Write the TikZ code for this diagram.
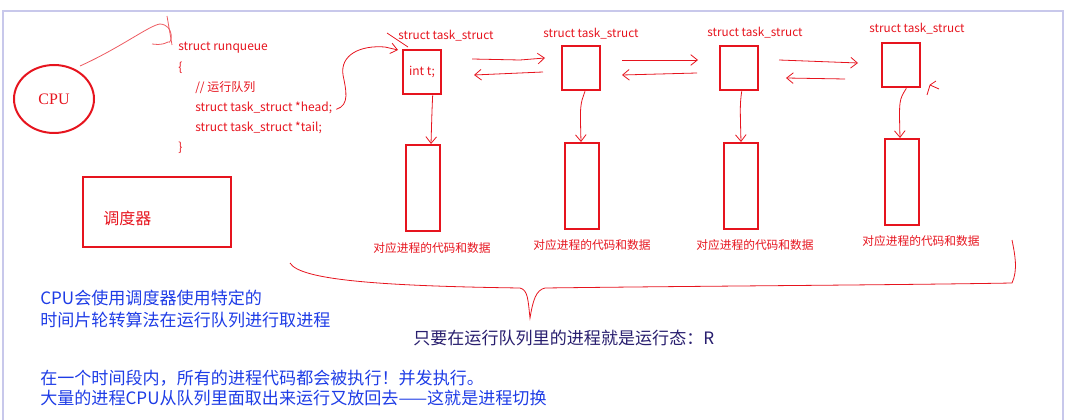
\documentclass[tikz,border=0pt]{standalone}
\usepackage{fontspec}
\setmainfont{Liberation Serif}
\newfontfamily\cjk{Noto Sans CJK SC}
\usetikzlibrary{arrows.meta,shapes.geometric}
\definecolor{rd}{RGB}{230,20,30}
\definecolor{bl}{RGB}{30,60,230}
\definecolor{dk}{RGB}{40,30,110}
\definecolor{lav}{RGB}{200,200,235}
\begin{document}
\begin{tikzpicture}[x=0.75pt,y=-0.75pt,
  rbox/.style={draw=rd,line width=1.5pt,inner sep=0pt},
  tbox/.style={rbox,minimum width=29pt,minimum height=33.5pt},
  dbox/.style={rbox,minimum width=25.5pt,minimum height=65pt},
  lbl/.style={text=rd,font=\cjk\fontsize{8.8}{10}\selectfont,inner sep=0pt},
  code/.style={text=rd,font=\cjk\fontsize{9}{10}\selectfont,inner sep=0pt,anchor=west},
  pen/.style={draw=rd,line width=0.6pt},
  arr/.style={pen,-{Straight Barb[length=5pt,width=8pt]}},
  note/.style={font=\cjk\fontsize{12.8}{14}\selectfont,inner sep=0pt,anchor=west}]
\useasboundingbox (0,0) rectangle (1069,420);
\draw[lav,line width=1pt] (3,11) rectangle (1063,425);
% CPU
\node[draw=rd,line width=1.5pt,ellipse,minimum width=60pt,minimum height=51pt,inner sep=0pt,text=rd,font=\fontsize{12}{13}\selectfont] (cpu) at (54,99) {CPU};
\coordinate (c1) at (80,66);
\coordinate (c2) at (168,42);
\draw[pen,rd!70] (c1) .. controls (120,48) and (150,25) .. (160,24) .. controls (175,25) and (172,45) .. (c2) .. controls (160,46) and (155,44) .. (152,44);
\draw[pen,rd!70] (167,16) -- (172,45);
% runqueue
\node[code] (r1) at (178,48) {struct runqueue};
\node[code] (r2) at (178,68) {\{};
\node[code] (r3) at (195,88) {// 运行队列};
\node[code] (r4) at (195,108) {struct task\_struct *head;};
\node[code] (r5) at (195,128) {struct task\_struct *tail;};
\node[code] (r6) at (178,148) {\}};
% scheduler
\node[rbox,minimum width=111pt,minimum height=52pt] (sch) at (157,212) {};
\node[text=rd,font=\cjk\fontsize{12}{13}\selectfont,inner sep=0pt,anchor=west] (scht) at (103,218) {调度器};
% task boxes
\node[tbox,text=rd,font=\cjk\fontsize{9}{10}\selectfont] (t1) at (422,72) {int t;};
\node[tbox] (t2) at (581,68) {};
\node[tbox] (t3) at (739,68) {};
\node[tbox] (t4) at (901,65) {};
\node[lbl] (h1) at (446,36) {struct task\_struct};
\node[lbl] (h2) at (591,34) {struct task\_struct};
\node[lbl] (h3) at (755,33) {struct task\_struct};
\node[lbl] (h4) at (917,29) {struct task\_struct};
% data boxes
\node[dbox] (d1) at (423,188) {};
\node[dbox] (d2) at (582,186) {};
\node[dbox] (d3) at (741,186) {};
\node[dbox] (d4) at (902,182) {};
\node[lbl] (l1) at (432,248) {对应进程的代码和数据};
\node[lbl] (l2) at (592,245) {对应进程的代码和数据};
\node[lbl] (l3) at (755,245) {对应进程的代码和数据};
\node[lbl] (l4) at (921,241) {对应进程的代码和数据};
% down arrows
\draw[arr] ([xshift=8pt]t1.south) .. controls (432,110) .. (431,144);
\draw[arr] ([xshift=3pt]t2.south) .. controls (580,105) .. (581,142);
\draw[arr] ([xshift=2pt]t3.south) .. controls (740,105) .. (741,142);
\draw[arr] ([xshift=4pt]t4.south) .. controls (899,100) .. (900,138);
% horizontal arrows
\draw[arr] (472,59) -- (520,60) -- (545,58);
\draw[arr] (543,72) -- (474,75);
\draw[arr] (622,60) -- (698,60);
\draw[arr] (697,73) -- (622,75);
\draw[arr] (779,60) -- (858,63);
\draw[arr] (845,79) -- (786,78);
\draw[pen] (927,95) -- (930,85) -- (936,81) (930,85) -- (939,89);
% head pointer
\draw[arr] (r4.east) ++(3pt,-1pt) .. controls (350,105) and (346,90) .. (343,75) .. controls (340,55) and (360,45) .. (385,47) -- (398,50);
\draw[pen] (387,33) -- (408,47);
% brace
\draw[pen] (290,263) .. controls (300,280) and (380,286) .. (520,288) .. controls (528,290) and (528,300) .. (530,318) .. controls (533,300) and (536,290) .. (545,288) .. controls (700,286) and (900,285) .. (1012,283) .. controls (1018,270) and (1015,255) .. (1012,240);
% notes
\node[note,text=bl] (n1) at (40,298) {CPU会使用调度器使用特定的};
\node[note,text=bl] (n2) at (40,320) {时间片轮转算法在运行队列进行取进程};
\node[note,text=dk] (n3) at (413,338) {只要在运行队列里的进程就是运行态：R};
\node[note,text=bl] (n4) at (40,378) {在一个时间段内，所有的进程代码都会被执行！并发执行。};
\node[note,text=bl] (n5) at (40,398) {大量的进程CPU从队列里面取出来运行又放回去——这就是进程切换};
\end{tikzpicture}
\end{document}
